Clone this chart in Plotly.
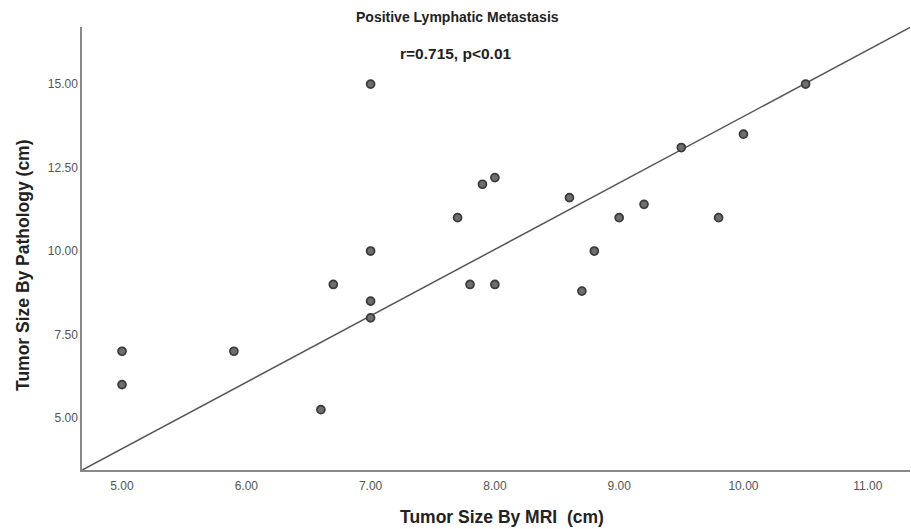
import plotly.graph_objects as go

# Data
mri_cm = [5.0, 5.0, 5.9, 6.6, 6.7, 7.0, 7.0, 7.0, 7.0, 7.7, 7.9, 8.0, 7.8, 8.0,
          8.6, 8.7, 8.8, 9.0, 9.2, 9.5, 9.8, 10.0, 10.5]
pathology_cm = [7.0, 6.0, 7.0, 5.25, 9.0, 10.0, 8.5, 8.0, 15.0, 11.0, 12.0, 12.2, 9.0, 9.0,
                11.6, 8.8, 10.0, 11.0, 11.4, 13.1, 11.0, 13.5, 15.0]

fit_slope = 1.99
fit_intercept = -5.87

x_range = [4.678, 11.34]
y_range = [3.443, 16.71]
x_ticks = [5, 6, 7, 8, 9, 10, 11]
y_ticks = [5, 7.5, 10, 12.5, 15]

title_text = "Positive Lymphatic Metastasis"
subtitle_text = "r=0.715, p<0.01"
x_title = "Tumor Size By MRI  (cm)"
y_title = "Tumor Size By Pathology (cm)"

font_family = "Arial, Liberation Sans, sans-serif"

line_x = x_range
line_y = [fit_slope * v + fit_intercept for v in line_x]

fig = go.Figure()
fig.add_trace(go.Scatter(
    x=line_x, y=line_y, mode="lines",
    line=dict(color="#555555", width=1.5),
    hoverinfo="skip", showlegend=False,
))
fig.add_trace(go.Scatter(
    x=mri_cm, y=pathology_cm, mode="markers",
    marker=dict(size=8, color="#6e6e6e", line=dict(color="#3a3a3a", width=1.7)),
    showlegend=False,
))

fig.update_layout(
    width=911, height=529,
    margin=dict(l=82, r=1, t=27, b=59),
    paper_bgcolor="white", plot_bgcolor="white",
    font=dict(family=font_family),
    xaxis=dict(
        range=x_range, tickvals=x_ticks,
        ticktext=[f"{v:.2f}" for v in x_ticks],
        showgrid=False, zeroline=False, showline=True,
        linecolor="#8a8a8a", linewidth=1.5, ticks="", ticklen=0,
        ticklabelstandoff=4,
        tickfont=dict(size=12, color="#555555", family=font_family),
    ),
    yaxis=dict(
        range=y_range, tickvals=y_ticks,
        ticktext=[f"{v:.2f}" for v in y_ticks],
        showgrid=False, zeroline=False, showline=True,
        linecolor="#8a8a8a", linewidth=1.5, ticks="", ticklen=0,
        tickfont=dict(size=12, color="#555555", family=font_family),
    ),
    annotations=[
        dict(text=f"<b>{title_text}</b>", xref="paper", yref="paper",
             x=(457 - 82) / 828, y=1 + (27 - 17) / 443, showarrow=False,
             xanchor="center", yanchor="middle",
             font=dict(size=14, color="#222222", family=font_family)),
        dict(text=f"<b>{subtitle_text}</b>", xref="paper", yref="paper",
             x=(456 - 82) / 828, y=(470 - 53) / 443, showarrow=False,
             xanchor="center", yanchor="middle",
             font=dict(size=15.5, color="#222222", family=font_family)),
        dict(text=f"<b>{x_title}</b>", xref="paper", yref="paper",
             x=(502 - 82) / 828, y=-(517 - 470) / 443, showarrow=False,
             xanchor="center", yanchor="middle",
             font=dict(size=17.5, color="#222222", family=font_family)),
        dict(text=f"<b>{y_title}</b>", xref="paper", yref="paper",
             x=-(82 - 23) / 828, y=(470 - 265) / 443, showarrow=False,
             xanchor="center", yanchor="middle", textangle=-90,
             font=dict(size=17.5, color="#222222", family=font_family)),
    ],
)

fig.write_html(
    "out.html",
    config={"displayModeBar": False},
    post_script="document.body.style.margin='0px';document.body.style.overflow='hidden';",
)
